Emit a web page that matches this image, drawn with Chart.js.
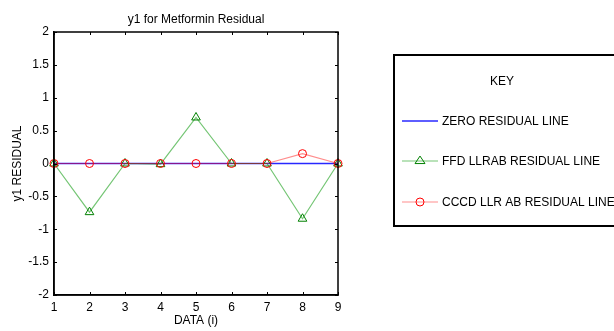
<!DOCTYPE html>
<html>
<head>
<meta charset="utf-8">
<script src="https://cdn.jsdelivr.net/npm/chart.js@4.4.1/dist/chart.umd.min.js"></script>
<style>
  html, body { margin: 0; padding: 0; background: #fff; }
  #wrap { width: 614px; height: 331px; position: relative; }
</style>
</head>
<body>
<div id="wrap"><canvas id="chart" width="614" height="331"></canvas></div>
<script>
const dataIndex = [1, 2, 3, 4, 5, 6, 7, 8, 9];
const zeroResidual = [0, 0, 0, 0, 0, 0, 0, 0, 0];
const ffdResidual = [0, -0.74, 0, -0.01, 0.7, 0, 0, -0.84, 0];
const cccdResidual = [0, 0, 0, 0, 0, 0, 0, 0.15, 0];
const seriesNames = ['ZERO RESIDUAL LINE', 'FFD LLRAB RESIDUAL LINE', 'CCCD LLR AB RESIDUAL LINE'];
const chartTitle = 'y1 for Metformin Residual';
const xTitle = 'DATA (i)';
const yTitle = 'y1 RESIDUAL';
const legendTitle = 'KEY';

const FONT = '"Liberation Sans", Arial, sans-serif';
Chart.defaults.font.family = FONT;
Chart.defaults.font.size = 12;
Chart.defaults.color = '#000';

function toPoints(values) {
  return dataIndex.map((x, i) => ({ x: x, y: values[i] }));
}

// draws the box, inward ticks, title and the KEY box (MATLAB look)
const matlabFrame = {
  id: 'matlabFrame',
  afterDraw(chart) {
    const ctx = chart.ctx;
    const a = chart.chartArea;
    const xs = chart.scales.x, ys = chart.scales.y;
    ctx.save();
    ctx.strokeStyle = '#000';
    ctx.lineWidth = 1.5;
    ctx.strokeRect(a.left, a.top, a.right - a.left, a.bottom - a.top);

    ctx.lineWidth = 1;
    ctx.beginPath();
    xs.ticks.forEach(t => {
      const px = Math.round(xs.getPixelForValue(t.value)) + 0.5;
      ctx.moveTo(px, a.bottom); ctx.lineTo(px, a.bottom - 3);
      ctx.moveTo(px, a.top); ctx.lineTo(px, a.top + 3);
    });
    ys.ticks.forEach(t => {
      const py = Math.round(ys.getPixelForValue(t.value)) + 0.5;
      ctx.moveTo(a.left, py); ctx.lineTo(a.left + 3, py);
      ctx.moveTo(a.right, py); ctx.lineTo(a.right - 3, py);
    });
    ctx.stroke();

    ctx.fillStyle = '#000';
    ctx.font = '12px ' + FONT;
    ctx.textAlign = 'center';
    ctx.textBaseline = 'middle';
    ctx.fillText(chartTitle, (a.left + a.right) / 2, 20);

    // key box
    const bx = 394, by = 55, bw = 240, bh = 171;
    ctx.lineWidth = 2;
    ctx.strokeRect(bx, by, bw, bh);
    ctx.fillText(legendTitle, 502, 82);

    const rows = [121, 161, 202];
    chart.data.datasets.forEach((ds, i) => {
      const y = rows[i];
      ctx.strokeStyle = ds.borderColor;
      ctx.lineWidth = ds.borderWidth;
      ctx.beginPath();
      ctx.moveTo(402, y); ctx.lineTo(438, y);
      ctx.stroke();
      if (ds.pointRadius > 0) {
        ctx.strokeStyle = ds.pointBorderColor;
        ctx.lineWidth = 1;
        ctx.beginPath();
        const r = ds.pointRadius;
        if (ds.pointStyle === 'triangle') {
          const h = r * 1.5;
          ctx.moveTo(420, y - h * 0.66);
          ctx.lineTo(420 + r, y + h * 0.34);
          ctx.lineTo(420 - r, y + h * 0.34);
          ctx.closePath();
        } else {
          ctx.arc(420, y, r, 0, Math.PI * 2);
        }
        ctx.stroke();
      }
      ctx.fillStyle = '#000';
      ctx.textAlign = 'left';
      ctx.fillText(ds.label, 442, y + 1);
    });
    ctx.restore();
  }
};

new Chart(document.getElementById('chart'), {
  type: 'line',
  data: {
    datasets: [
      {
        label: seriesNames[0],
        data: toPoints(zeroResidual),
        borderColor: 'rgb(40,40,255)',
        borderWidth: 1.6,
        pointRadius: 0,
        order: 3,
        clip: false
      },
      {
        label: seriesNames[1],
        data: toPoints(ffdResidual),
        borderColor: 'rgba(0,150,0,0.55)',
        borderWidth: 1.2,
        pointStyle: 'triangle',
        pointRadius: 5,
        pointBorderColor: '#008000',
        pointBackgroundColor: 'rgba(0,0,0,0)',
        pointBorderWidth: 1,
        order: 2,
        clip: false
      },
      {
        label: seriesNames[2],
        data: toPoints(cccdResidual),
        borderColor: 'rgba(255,0,0,0.45)',
        borderWidth: 1.2,
        pointStyle: 'circle',
        pointRadius: 4,
        pointBorderColor: '#ff0000',
        pointBackgroundColor: 'rgba(0,0,0,0)',
        pointBorderWidth: 1,
        order: 1,
        clip: false
      }
    ]
  },
  options: {
    responsive: false,
    animation: false,
    layout: { padding: { top: 32, right: 276, bottom: 0, left: 0 } },
    plugins: {
      legend: { display: false },
      tooltip: { enabled: false },
      title: { display: false }
    },
    scales: {
      x: {
        type: 'linear',
        min: 1,
        max: 9,
        afterFit: s => { s.height = 36; },
        ticks: { stepSize: 1, padding: 5, color: '#000', font: { size: 12 } },
        grid: { display: false, drawTicks: false },
        border: { display: true, color: '#000', width: 1.5 },
        title: { display: true, text: xTitle, color: '#000', font: { size: 12 }, padding: { top: 0, bottom: 3 } }
      },
      y: {
        min: -2,
        max: 2,
        afterFit: s => { s.width = 54; },
        ticks: {
          stepSize: 0.5,
          padding: 5,
          color: '#000',
          font: { size: 12 },
          callback: v => String(Math.round(v * 10) / 10)
        },
        grid: { display: false, drawTicks: false },
        border: { display: true, color: '#000', width: 1.5 },
        title: { display: true, text: yTitle, color: '#000', font: { size: 12 }, padding: { top: 10, bottom: 0 } }
      }
    }
  },
  plugins: [matlabFrame]
});
</script>
</body>
</html>
